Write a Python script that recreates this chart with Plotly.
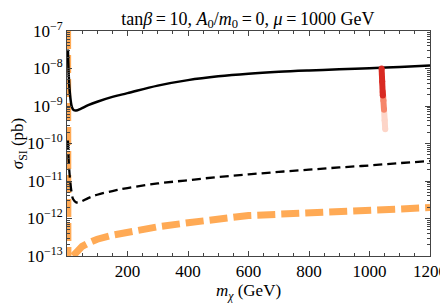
import plotly.graph_objects as go

# ---- data ----
m_solid = [3, 6, 10, 16, 22, 30, 45, 70, 100, 150, 200, 300, 400, 500, 600, 700, 800, 900, 1000, 1100, 1200]
s_solid = [3.2e-8, 6e-9, 2e-9, 9.5e-10, 7.8e-10, 7.6e-10, 8.4e-10, 1.05e-9, 1.3e-9, 1.75e-9, 2.2e-9, 3.5e-9, 4.9e-9, 6.2e-9, 7.3e-9, 8.2e-9, 8.9e-9, 9.5e-9, 1.02e-8, 1.1e-8, 1.2e-8]

m_dash = [3, 6, 10, 15, 20, 30, 45, 70, 100, 150, 200, 300, 400, 500, 600, 700, 800, 900, 1000, 1100, 1200]
s_dash = [1.2e-10, 3e-11, 1.1e-11, 5e-12, 3.3e-12, 2.7e-12, 2.8e-12, 3.5e-12, 4.3e-12, 5.4e-12, 6.5e-12, 8.6e-12, 1.05e-11, 1.28e-11, 1.5e-11, 1.75e-11, 2.0e-11, 2.3e-11, 2.6e-11, 3.0e-11, 3.4e-11]

m_orange = [2, 3, None, 20, 30, 50, 75, 100, 150, 200, 300, 400, 500, 600, 700, 800, 900, 1000, 1100, 1200]
s_orange = [1e-7, 1e-13, None, 1.0e-13, 1.25e-13, 1.8e-13, 2.3e-13, 2.8e-13, 3.6e-13, 4.4e-13, 6.0e-13, 7.7e-13, 1.0e-12, 1.2e-12, 1.3e-12, 1.4e-12, 1.5e-12, 1.62e-12, 1.78e-12, 1.95e-12]

m_red1 = [1040, 1042, 1044]
s_red1 = [1.0e-8, 4.5e-9, 1.9e-9]
m_red2 = [1044, 1046, 1048]
s_red2 = [2.4e-9, 1.4e-9, 8e-10]
m_red3 = [1048, 1050, 1052]
s_red3 = [8e-10, 4.2e-10, 2.4e-10]

y_tickvals = [1e-13, 1e-12, 1e-11, 1e-10, 1e-9, 1e-8, 1e-7]
y_ticktext = ["10<sup>\u221213</sup>", "10<sup>\u221212</sup>", "10<sup>\u221211</sup>",
              "10<sup>\u221210</sup>", "10<sup>\u22129</sup>", "10<sup>\u22128</sup>", "10<sup>\u22127</sup>"]
x_tickvals = [200, 400, 600, 800, 1000, 1200]

font = "Liberation Serif, Times New Roman, serif"
eq = "\u2009=\u2009"

fig = go.Figure()
fig.add_trace(go.Scatter(x=m_orange, y=s_orange, mode="lines", connectgaps=False,
                         line=dict(color="#FFAA55", width=7, dash="18px,6px")))
fig.add_trace(go.Scatter(x=m_solid, y=s_solid, mode="lines",
                         line=dict(color="black", width=2.5, shape="spline")))
fig.add_trace(go.Scatter(x=m_dash, y=s_dash, mode="lines",
                         line=dict(color="black", width=2.3, dash="9px,5px", shape="spline")))
for mx, sy, col in [(m_red3, s_red3, "#FDD5C8"), (m_red2, s_red2, "#F6866A"), (m_red1, s_red1, "#D92A22")]:
    fig.add_trace(go.Scatter(x=mx, y=sy, mode="lines+markers",
                             line=dict(color=col, width=6),
                             marker=dict(color=col, size=6)))

minor_y = [k * 10.0 ** e for e in range(-13, -7) for k in range(2, 10)]

# page body has an 8px default margin, so the figure is made 8px smaller
fig.update_layout(
    width=440, height=296,
    margin=dict(l=59, r=18, t=23, b=48),
    paper_bgcolor="white", plot_bgcolor="white",
    showlegend=False,
    font=dict(family=font, size=17, color="black"),
    title=dict(text=f"tan<i>β</i>{eq}10, <i>A</i><sub>0</sub>/<i>m</i><sub>0</sub>{eq}0, <i>μ</i>{eq}1000 GeV",
               x=0.545, xanchor="center", y=0.965, yanchor="middle",
               font=dict(family=font, size=18)),
)
fig.update_xaxes(
    range=[0, 1200], showgrid=False, zeroline=False, automargin=False,
    showline=True, linecolor="#444", linewidth=1, mirror="ticks",
    ticks="inside", ticklen=5, tickcolor="#444",
    tickvals=x_tickvals, tickfont=dict(family=font, size=17),
    minor=dict(ticks="inside", ticklen=3, tickvals=list(range(50, 1200, 50)), tickcolor="#444"),
    title=dict(text="<i>m</i><sub><i>χ</i></sub> (GeV)", standoff=3, font=dict(family=font, size=17)),
)
fig.update_yaxes(
    type="log", range=[-13, -7], showgrid=False, zeroline=False, automargin=False,
    showline=True, linecolor="#444", linewidth=1, mirror="ticks",
    ticks="inside", ticklen=5, tickcolor="#444",
    tickvals=y_tickvals, ticktext=y_ticktext, tickfont=dict(family=font, size=17),
    minor=dict(ticks="inside", ticklen=3, tickvals=minor_y, tickcolor="#444"),
    title=dict(text="<i>σ</i><sub>SI</sub> (pb)", standoff=2, font=dict(family=font, size=17)),
)

fig.write_html("out.html")
